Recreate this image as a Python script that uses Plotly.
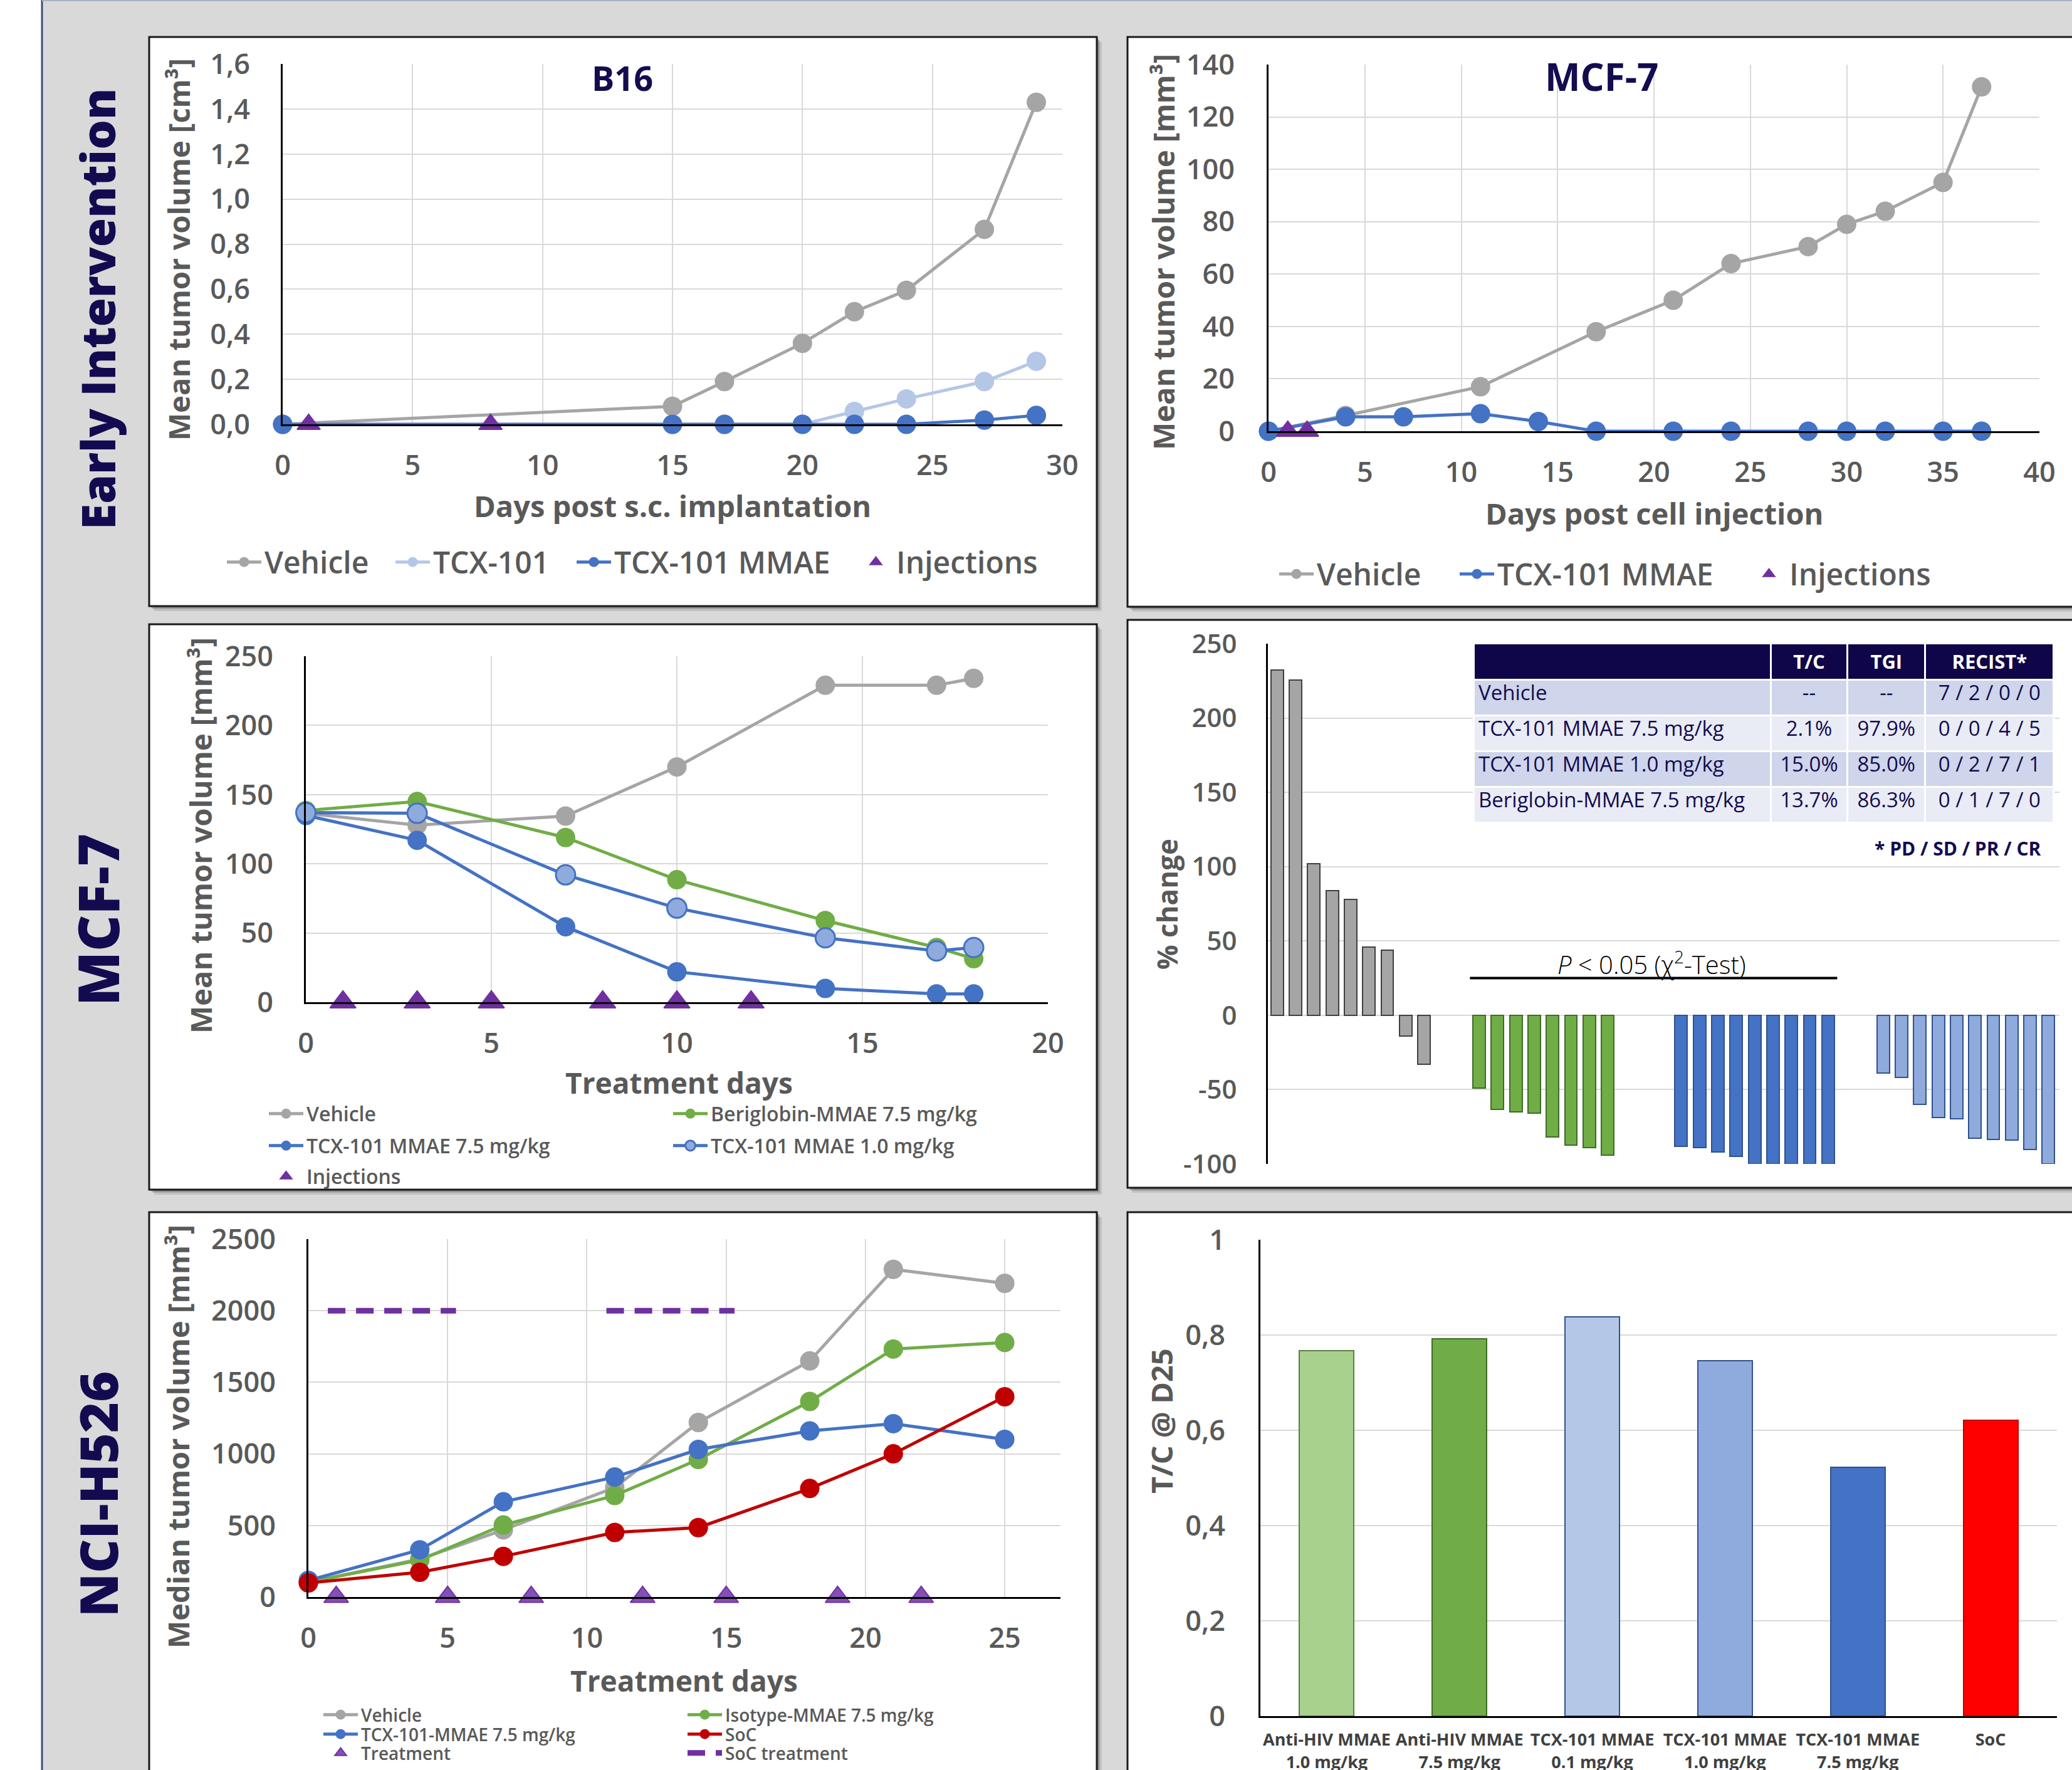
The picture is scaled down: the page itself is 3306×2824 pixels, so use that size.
import plotly.graph_objects as go

W, H = 3306, 2824
def X(p): return p / W
def Y(p): return 1 - p / H

FONT = "Open Sans"
GRAY = "#a5a5a5"; LIGHT = "#b4c7e7"; BLUE = "#4472c4"; MID = "#8faadc"
GREEN = "#70ad47"; LGREEN = "#a9d18e"; RED = "#c00000"; PURPLE = "#7030a0"
NAVY = "#130c4f"; TXT = "#595959"

# ---------------- data ----------------
# Panel A: B16 early intervention
b16_days = [0, 15, 17, 20, 22, 24, 27, 29]
b16_vehicle = [0.0, 0.08, 0.19, 0.36, 0.50, 0.595, 0.866, 1.43]
b16_tcx101 = [0.0, 0.0, 0.0, 0.0, 0.057, 0.113, 0.19, 0.28]
b16_tcx101_mmae = [0.0, 0.0, 0.0, 0.0, 0.0, 0.0, 0.019, 0.04]
b16_injection_days = [1, 8]

# Panel B: MCF-7 early intervention
mcfe_days_vehicle = [0, 4, 11, 17, 21, 24, 28, 30, 32, 35, 37]
mcfe_vehicle = [0, 6, 17, 38, 50, 64, 70.5, 79, 84, 95, 131.5]
mcfe_days_mmae = [0, 4, 7, 11, 14, 17, 21, 24, 28, 30, 32, 35, 37]
mcfe_mmae = [0, 5.5, 5.5, 6.7, 3.7, 0, 0, 0, 0, 0, 0, 0, 0]
mcfe_injection_days = [1, 2]

# Panel C: MCF-7 treatment
mcf_days = [0, 3, 7, 10, 14, 17, 18]
mcf_vehicle = [136.5, 128, 134.5, 170, 229, 229, 234]
mcf_beriglobin = [138.5, 145, 119, 88.5, 59, 39.5, 31.5]
mcf_tcx75 = [135, 117, 54.5, 22, 10, 6, 6]
mcf_tcx10 = [137, 136.5, 92, 68, 46.5, 37, 39.5]
mcf_injection_days = [1, 3, 5, 8, 10, 12]

# Panel D: waterfall (% change)
wf_vehicle = [232.5, 225.5, 102, 84, 78, 46, 44, -14, -33]
wf_beriglobin = [-49, -63.5, -65, -66, -82, -87.5, -89, -94]
wf_tcx75 = [-88, -89, -92, -95, -100, -100, -100, -100, -100]
wf_tcx10 = [-39, -42, -60, -69, -69.5, -82.5, -83.5, -84, -90.5, -100]
wf_slots_per_group = 11
wf_yticks = [-100, -50, 0, 50, 100, 150, 200, 250]
wf_yticktext = ["-100", "-50", "0", "50", "100", "150", "200", "250"]

table_header = [" ", "T/C", "TGI", "RECIST*"]
table_groups = ["Vehicle", "TCX-101 MMAE 7.5 mg/kg", "TCX-101 MMAE 1.0 mg/kg", "Beriglobin-MMAE 7.5 mg/kg"]
table_tc = ["--", "2.1%", "15.0%", "13.7%"]
table_tgi = ["--", "97.9%", "85.0%", "86.3%"]
table_recist = ["7 / 2 / 0 / 0", "0 / 0 / 4 / 5", "0 / 2 / 7 / 1", "0 / 1 / 7 / 0"]
pvalue_y = 25

# Panel E: NCI-H526
h526_days = [0, 4, 7, 11, 14, 18, 21, 25]
h526_vehicle = [103, 265, 469, 765, 1219, 1649, 2289, 2191]
h526_isotype = [103, 258, 503, 709, 961, 1366, 1732, 1778]
h526_tcx = [116, 330, 665, 838, 1031, 1160, 1211, 1101]
h526_soc = [98, 173, 284, 451, 485, 758, 1000, 1399]
h526_treatment_days = [1, 5, 8, 12, 15, 19, 22]
soc_treatment_x = [0.7, 5.3, None, 10.7, 15.3]
soc_treatment_y = [2000, 2000, None, 2000, 2000]

# Panel F: T/C at day 25
tc_labels = ["Anti-HIV MMAE<br>1.0 mg/kg", "Anti-HIV MMAE<br>7.5 mg/kg", "TCX-101 MMAE<br>0.1 mg/kg",
             "TCX-101 MMAE<br>1.0 mg/kg", "TCX-101 MMAE<br>7.5 mg/kg", "SoC"]
tc_values = [0.767, 0.793, 0.838, 0.746, 0.522, 0.621]

fig = go.Figure()

def line_trace(x, y, name, color, xa, ya, legend, fill=None, mline=None, size=31):
    return go.Scatter(x=x, y=y, name=name, mode="lines+markers", xaxis=xa, yaxis=ya, legend=legend,
                      line=dict(color=color, width=5),
                      marker=dict(size=size, color=fill or color,
                                  line=dict(color=mline or color, width=3 if mline else 0)),
                      cliponaxis=False)

def tri_trace(days, name, xa, ya, legend, size=32, fill=PURPLE):
    return go.Scatter(x=days, y=[0 for _ in days], name=name, mode="markers", xaxis=xa, yaxis=ya,
                      legend=legend, marker=dict(symbol="triangle-up", size=size, color=fill,
                                                 line=dict(color=PURPLE, width=2)),
                      cliponaxis=False)

# A
fig.add_trace(line_trace(b16_days, b16_vehicle, "Vehicle", GRAY, "x", "y", "legend"))
fig.add_trace(line_trace(b16_days, b16_tcx101, "TCX-101", LIGHT, "x", "y", "legend2"))
fig.add_trace(line_trace(b16_days, b16_tcx101_mmae, "TCX-101 MMAE", BLUE, "x", "y", "legend3"))
fig.add_trace(tri_trace(b16_injection_days, "Injections", "x", "y", "legend4"))
# B
fig.add_trace(line_trace(mcfe_days_vehicle, mcfe_vehicle, "Vehicle", GRAY, "x2", "y2", "legend5"))
fig.add_trace(line_trace(mcfe_days_mmae, mcfe_mmae, "TCX-101 MMAE", BLUE, "x2", "y2", "legend6"))
fig.add_trace(tri_trace(mcfe_injection_days, "Injections", "x2", "y2", "legend7"))
# C
fig.add_trace(line_trace(mcf_days, mcf_vehicle, "Vehicle", GRAY, "x3", "y3", "legend8"))
fig.add_trace(line_trace(mcf_days, mcf_beriglobin, "Beriglobin-MMAE 7.5 mg/kg", GREEN, "x3", "y3", "legend8"))
fig.add_trace(line_trace(mcf_days, mcf_tcx75, "TCX-101 MMAE 7.5 mg/kg", BLUE, "x3", "y3", "legend9"))
fig.add_trace(line_trace(mcf_days, mcf_tcx10, "TCX-101 MMAE 1.0 mg/kg", BLUE, "x3", "y3", "legend9",
                         fill=MID, mline=BLUE))
fig.add_trace(tri_trace(mcf_injection_days, "Injections", "x3", "y3", "legend10", size=36))

# D waterfall
wf_groups = [(wf_vehicle, GRAY, "#404040"), (wf_beriglobin, GREEN, "#3f6b27"),
             (wf_tcx75, BLUE, "#2f528f"), (wf_tcx10, MID, "#2f528f")]
for gi, (vals, col, lcol) in enumerate(wf_groups):
    xs = [gi * wf_slots_per_group + i for i in range(len(vals))]
    fig.add_trace(go.Bar(x=xs, y=vals, width=0.68, xaxis="x4", yaxis="y4", showlegend=False,
                         marker=dict(color=col, line=dict(color=lcol, width=2))))

# E
fig.add_trace(line_trace(h526_days, h526_vehicle, "Vehicle", GRAY, "x5", "y5", "legend11"))
fig.add_trace(line_trace(h526_days, h526_isotype, "Isotype-MMAE 7.5 mg/kg", GREEN, "x5", "y5", "legend11"))
fig.add_trace(line_trace(h526_days, h526_tcx, "TCX-101-MMAE 7.5 mg/kg", BLUE, "x5", "y5", "legend12"))
fig.add_trace(line_trace(h526_days, h526_soc, "SoC", RED, "x5", "y5", "legend12"))
fig.add_trace(tri_trace(h526_treatment_days, "Treatment", "x5", "y5", "legend13", size=34, fill="#8450b8"))
fig.add_trace(go.Scatter(x=soc_treatment_x, y=soc_treatment_y, name="SoC treatment", mode="lines",
                         xaxis="x5", yaxis="y5", legend="legend13",
                         line=dict(color=PURPLE, width=9, dash="28px,17px")))

# F
fig.add_trace(go.Bar(x=tc_labels, y=tc_values, xaxis="x6", yaxis="y6", showlegend=False, width=0.41,
                     marker=dict(color=[LGREEN, GREEN, LIGHT, MID, BLUE, "#ff0000"],
                                 line=dict(color=["#5b7f43", "#3f6b27", "#2f528f", "#2f528f", "#2f528f", "#c00000"],
                                           width=2))))

# Table
fig.add_trace(go.Table(
    domain=dict(x=[X(2351), X(3278)], y=[Y(1320), Y(1026)]),
    columnwidth=[471, 122, 123, 204],
    header=dict(values=["<b>%s</b>" % h for h in table_header], fill_color="#0f0649",
                font=dict(family=FONT, size=31, color="white"), align="center", height=56,
                line=dict(color="white", width=3)),
    cells=dict(values=[table_groups, table_tc, table_tgi, table_recist],
               fill_color=[["#cfd5ea", "#e9ebf5", "#cfd5ea", "#e9ebf5"]] * 4,
               font=dict(family=FONT, size=33, color=NAVY), align=["left", "center", "center", "center"],
               height=57, line=dict(color="white", width=3))))

tickf = dict(family=FONT, size=45, color=TXT, weight=600)
def ax(**kw):
    d = dict(showgrid=True, gridcolor="#d9d9d9", gridwidth=2, zeroline=False, showline=True,
             linecolor="black", linewidth=3, ticks="", tickfont=tickf, automargin=False, fixedrange=True)
    d.update(kw)
    return d

XS = 24
layout = dict(
    width=W, height=H, margin=dict(l=0, r=0, t=0, b=0), paper_bgcolor="#d9d9d9", plot_bgcolor="white",
    separators=",.", bargap=0, barmode="overlay",
    xaxis=ax(domain=[X(451), X(1695)], range=[0, 30], dtick=5, tick0=0, anchor="y", ticklabelstandoff=XS),
    yaxis=ax(domain=[Y(677), Y(102)], range=[0, 1.6005], dtick=0.2, tick0=0, tickformat=".1f", anchor="x",
             ticklabelstandoff=40),
    xaxis2=ax(domain=[X(2024), X(3254)], range=[0, 40], dtick=5, anchor="y2", ticklabelstandoff=XS),
    yaxis2=ax(domain=[Y(688), Y(103)], range=[0, 140], dtick=20, anchor="x2", ticklabelstandoff=42),
    xaxis3=ax(domain=[X(488), X(1672)], range=[0, 20], dtick=5, anchor="y3", ticklabelstandoff=XS),
    yaxis3=ax(domain=[Y(1599), Y(1047)], range=[0, 250], dtick=50, anchor="x3", ticklabelstandoff=40),
    xaxis4=ax(domain=[X(2023), X(3286)], range=[-0.5, 42.6], showgrid=False, showline=False,
              showticklabels=False, anchor="y4"),
    yaxis4=ax(domain=[Y(1857), Y(1027)], range=[-100, 250], tickvals=wf_yticks, ticktext=wf_yticktext,
              anchor="x4", ticklabelstandoff=38, tickfont=dict(family=FONT, size=42, color=TXT, weight=600)),
    xaxis5=ax(domain=[X(492), X(1692)], range=[0, 27], dtick=5, anchor="y5", ticklabelstandoff=XS),
    yaxis5=ax(domain=[Y(2548), Y(1977)], range=[0, 2500], dtick=500, anchor="x5", ticklabelstandoff=40),
    xaxis6=ax(domain=[X(2011), X(3282)], type="category", showgrid=False, anchor="y6", ticklabelstandoff=12,
              tickfont=dict(family=FONT, size=27, color="#404040", weight=700)),
    yaxis6=ax(domain=[Y(2738), Y(1978)], range=[0, 1.0005], dtick=0.2, anchor="x6", ticklabelstandoff=44),
)

def leg(x, y, size, entry=None):
    d = dict(orientation="h", x=X(x), y=Y(y), xanchor="left", yanchor="middle", bgcolor="rgba(0,0,0,0)",
             font=dict(family=FONT, size=size, color=TXT, weight=600), itemwidth=55, borderwidth=0,
             itemclick=False, itemdoubleclick=False)
    if entry:
        d.update(entrywidth=entry, entrywidthmode="pixels")
    return d

# legend positions: item text starts 64 px right of the legend's left edge
layout["legend"] = leg(357, 897, 48)
layout["legend2"] = leg(626, 897, 48)
layout["legend3"] = leg(915, 897, 48)
layout["legend4"] = leg(1365, 897, 48)
layout["legend5"] = leg(2036, 916, 48)
layout["legend6"] = leg(2324, 916, 48)
layout["legend7"] = leg(2790, 916, 48)
layout["legend8"] = leg(424, 1777, 32, 575)
layout["legend9"] = leg(424, 1828, 32, 575)
layout["legend10"] = leg(424, 1877, 32, 575)
layout["legend11"] = leg(511, 2736, 28, 511)
layout["legend12"] = leg(511, 2767, 28, 511)
layout["legend13"] = leg(511, 2797, 28, 511)

# shapes: background strips and panels
shapes = [
    dict(type="rect", xref="paper", yref="paper", x0=0, x1=X(66), y0=0, y1=1, fillcolor="white",
         line=dict(width=0), layer="below"),
    dict(type="line", xref="paper", yref="paper", x0=X(67), x1=X(67), y0=0, y1=1,
         line=dict(color="#3d4f78", width=3), layer="below"),
    dict(type="line", xref="paper", yref="paper", x0=X(67), x1=1, y0=Y(1), y1=Y(1),
         line=dict(color="#aab3c5", width=2), layer="below"),
]
panels = [(238, 59, 1750, 967), (1799, 59, 3330, 968), (238, 996, 1750, 1898),
          (1799, 989, 3330, 1895), (238, 1934, 1750, 2860), (1799, 1934, 3330, 2860)]
for (a, b, c, d) in panels:
    for off, op in ((8, 0.10), (5, 0.15), (3, 0.2)):
        shapes.append(dict(type="rect", xref="paper", yref="paper", x0=X(a + off), x1=X(c + off),
                           y0=Y(d + off), y1=Y(b + off), fillcolor="rgba(0,0,0,%s)" % op,
                           line=dict(width=0), layer="below"))
    shapes.append(dict(type="rect", xref="paper", yref="paper", x0=X(a), x1=X(c), y0=Y(d), y1=Y(b),
                       fillcolor="white", line=dict(color="#1a1a1a", width=3), layer="below"))
# significance bar over green + dark blue groups
shapes.append(dict(type="line", xref="x4", yref="y4", x0=wf_slots_per_group - 0.5,
                   x1=2 * wf_slots_per_group + len(wf_tcx75) - 0.5, y0=pvalue_y, y1=pvalue_y,
                   line=dict(color="black", width=4)))
layout["shapes"] = shapes

def ann(text, x, y, size, color=TXT, angle=0, weight=700, **kw):
    d = dict(text=text, x=X(x), y=Y(y), xref="paper", yref="paper", showarrow=False, textangle=angle,
             font=dict(family=FONT, size=size, color=color, weight=weight), xanchor="center", yanchor="middle")
    d.update(kw)
    return d

anns = [
    ann("Early Intervention", 155, 493, 75, "#120b50", -90, 800),
    ann("MCF-7", 155, 1468, 90, "#120b50", -90, 800),
    ann("NCI-H526", 155, 2384, 84, "#120b50", -90, 800),
    ann("B16", 993, 124, 54, NAVY),
    ann("MCF-7", 2555, 122, 60, NAVY),
    ann("Days post s.c. implantation", 1073, 807, 47),
    ann("Mean tumor volume [cm³]", 285, 398, 47, angle=-90),
    ann("Days post cell injection", 2639, 819, 47),
    ann("Mean tumor volume [mm³]", 1856, 402, 47, angle=-90),
    ann("Treatment days", 1083, 1727, 46),
    ann("Mean tumor volume [mm³]", 320, 1333, 47, angle=-90),
    ann("% change", 1862, 1443, 44, angle=-90),
    ann("Treatment days", 1091, 2681, 46),
    ann("Median tumor volume [mm³]", 284, 2292, 47, angle=-90),
    ann("T/C @ D25", 1853, 2267, 47, angle=-90),
    ann("<b>* PD / SD / PR / CR</b>", 3259, 1354, 30, NAVY, xanchor="right"),
    ann("<i>P</i> &lt; 0.05 (χ<sup>2</sup>-Test)", 2635, 1536, 40, "black", weight=300),
]
layout["annotations"] = anns

fig.update_layout(**layout)
fig.write_html("out.html", config={"displayModeBar": False},
               post_script="document.body.style.margin='0px';")
